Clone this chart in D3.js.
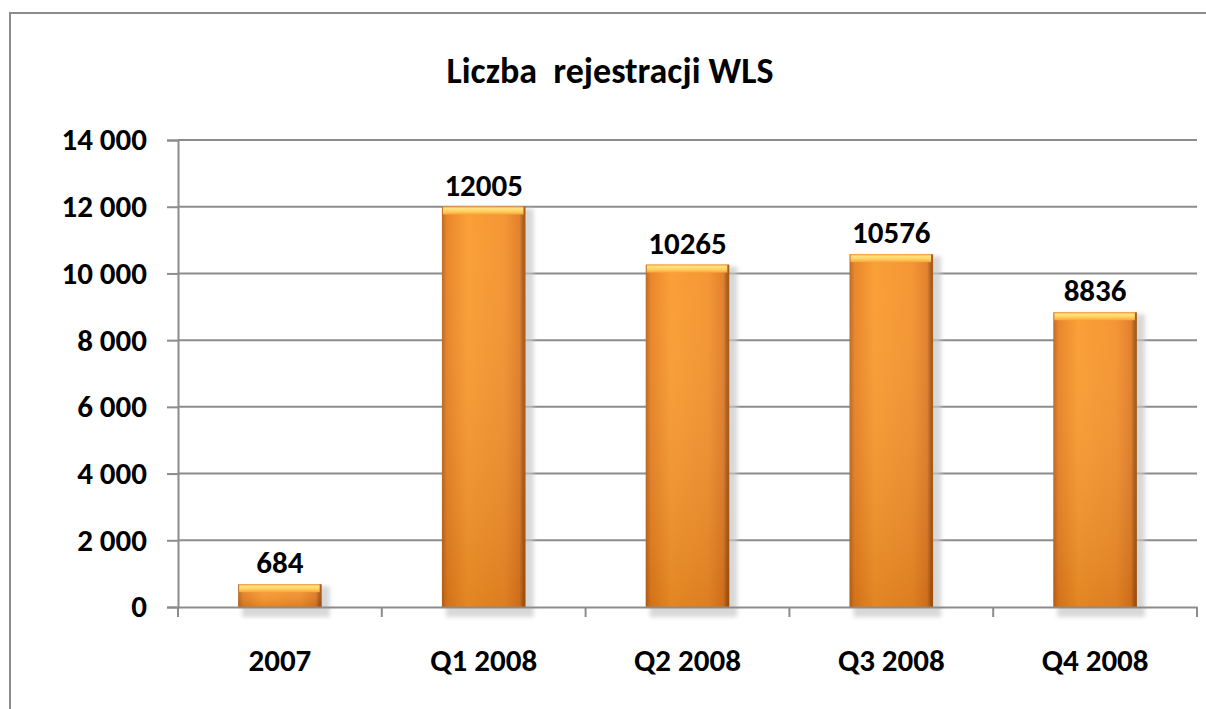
<!DOCTYPE html>
<html>
<head>
<meta charset="utf-8">
<script src="https://cdn.jsdelivr.net/npm/d3@7"></script>
<style>
  body { margin: 0; background: #fff; }
  svg { display: block; font-family: Carlito, Lato, "Open Sans", sans-serif; }
</style>
</head>
<body>
<div id="chart"></div>
<script>
// data
const categories = ["2007", "Q1 2008", "Q2 2008", "Q3 2008", "Q4 2008"];
const registrations = [684, 12005, 10265, 10576, 8836];
const yTicks = [0, 2000, 4000, 6000, 8000, 10000, 12000, 14000];
const chartTitle = "Liczba  rejestracji WLS";

const width = 1206, height = 709;
const margin = { top: 140, right: 9, bottom: 102, left: 178 };

const svg = d3.select("#chart").append("svg")
    .attr("width", width)
    .attr("height", height);

const defs = svg.append("defs");

// horizontal shading of the bar body (edges darker)
const gH = defs.append("linearGradient").attr("id", "barH")
    .attr("x1", "0").attr("x2", "1").attr("y1", "0").attr("y2", "0");
[[0, "#b8621a"], [0.06, "#e8801f"], [0.3, "#fb9a2c"], [0.75, "#f4902a"], [0.93, "#e07a22"], [0.97, "#a95812"], [1, "#9c5210"]]
    .forEach(s => gH.append("stop").attr("offset", s[0]).attr("stop-color", s[1]));

// vertical darkening toward the base
const gV = defs.append("linearGradient").attr("id", "barV")
    .attr("x1", "0").attr("x2", "0").attr("y1", "0").attr("y2", "1");
gV.append("stop").attr("offset", 0).attr("stop-color", "#fff").attr("stop-opacity", 0.05);
gV.append("stop").attr("offset", 1).attr("stop-color", "#8a3c00").attr("stop-opacity", 0.22);

// yellow bevel on top
const gTop = defs.append("linearGradient").attr("id", "barTop")
    .attr("x1", "0").attr("x2", "0").attr("y1", "0").attr("y2", "1");
gTop.append("stop").attr("offset", 0).attr("stop-color", "#f0a040");
gTop.append("stop").attr("offset", 0.25).attr("stop-color", "#ffe37e");
gTop.append("stop").attr("offset", 0.6).attr("stop-color", "#ffd060");
gTop.append("stop").attr("offset", 1).attr("stop-color", "#fba33a");

const blur = defs.append("filter").attr("id", "shadow")
    .attr("x", "-20%").attr("y", "-5%").attr("width", "140%").attr("height", "110%");
blur.append("feGaussianBlur").attr("stdDeviation", 2);

// outer frame (cut by the window on the right and bottom)
svg.append("rect")
    .attr("x", 10).attr("y", 13)
    .attr("width", width + 20).attr("height", height + 20)
    .attr("fill", "none")
    .attr("stroke", "#8c8c8c")
    .attr("stroke-width", 2);

const x = d3.scaleBand()
    .domain(categories)
    .range([margin.left, width - margin.right])
    .paddingInner(0.59)
    .paddingOuter(0.295);

const y = d3.scaleLinear()
    .domain([0, 14000])
    .range([height - margin.bottom, margin.top]);

const fmt = v => d3.format(",")(v).replace(/,/g, " ");

// gridlines
svg.append("g")
    .selectAll("line")
    .data(yTicks.filter(d => d > 0))
    .join("line")
    .attr("x1", margin.left)
    .attr("x2", width - margin.right)
    .attr("y1", d => y(d))
    .attr("y2", d => y(d))
    .attr("stroke", "#8c8c8c")
    .attr("stroke-width", 2);

// y axis
const yAxis = svg.append("g")
    .attr("transform", `translate(${margin.left},0)`)
    .call(d3.axisLeft(y).tickValues(yTicks).tickFormat(fmt).tickSize(11).tickPadding(20));
yAxis.select(".domain").attr("stroke", "#8c8c8c").attr("stroke-width", 2);
yAxis.selectAll(".tick line").attr("stroke", "#8c8c8c").attr("stroke-width", 2);
yAxis.selectAll(".tick text")
    .attr("fill", "#000")
    .style("font-size", "31px")
    .style("font-weight", "bold")
    .style("font-family", "Carlito, Lato, sans-serif");

// bars
const bars = svg.append("g")
    .selectAll("g")
    .data(categories.map((c, i) => ({ cat: c, value: registrations[i] })))
    .join("g");

bars.append("rect")
    .attr("x", d => x(d.cat) + 4)
    .attr("y", d => y(d.value) + 2)
    .attr("width", x.bandwidth() + 4)
    .attr("height", d => y(0) - y(d.value) + 8)
    .attr("fill", "#c8c8c8")
    .attr("opacity", 0.7)
    .attr("filter", "url(#shadow)");

bars.append("rect")
    .attr("x", d => x(d.cat))
    .attr("y", d => y(d.value))
    .attr("width", x.bandwidth())
    .attr("height", d => y(0) - y(d.value))
    .attr("fill", "url(#barH)");

bars.append("rect")
    .attr("x", d => x(d.cat))
    .attr("y", d => y(d.value))
    .attr("width", x.bandwidth())
    .attr("height", d => y(0) - y(d.value))
    .attr("fill", "url(#barV)");

bars.append("rect")
    .attr("x", d => x(d.cat) + 1)
    .attr("y", d => y(d.value))
    .attr("width", x.bandwidth() - 3)
    .attr("height", 8)
    .attr("fill", "url(#barTop)");

// x axis
const xAxis = svg.append("g")
    .attr("transform", `translate(0,${y(0)})`)
    .call(d3.axisBottom(x).tickSize(0).tickPadding(42));
xAxis.select(".domain").attr("stroke", "#8c8c8c").attr("stroke-width", 2);
xAxis.selectAll(".tick text")
    .attr("fill", "#000")
    .style("font-size", "31px")
    .style("font-weight", "bold")
    .style("font-family", "Carlito, Lato, sans-serif");

// tick marks between categories
const bounds = categories.map(c => x(c) - x.step() * x.paddingInner() / 2);
bounds.push(width - margin.right);
xAxis.append("g")
    .selectAll("line")
    .data(bounds)
    .join("line")
    .attr("x1", d => d).attr("x2", d => d)
    .attr("y1", 0).attr("y2", 10)
    .attr("stroke", "#8c8c8c")
    .attr("stroke-width", 2);

// value labels
bars.append("text")
    .attr("x", d => x(d.cat) + x.bandwidth() / 2)
    .attr("y", d => y(d.value) - 11)
    .attr("text-anchor", "middle")
    .style("font-size", "31px")
    .style("font-weight", "bold")
    .text(d => d.value);

// title
svg.append("text")
    .attr("x", 610)
    .attr("y", 83)
    .attr("text-anchor", "middle")
    .style("font-size", "36px")
    .style("font-weight", "bold")
    .style("white-space", "pre")
    .text(chartTitle);
</script>
</body>
</html>
